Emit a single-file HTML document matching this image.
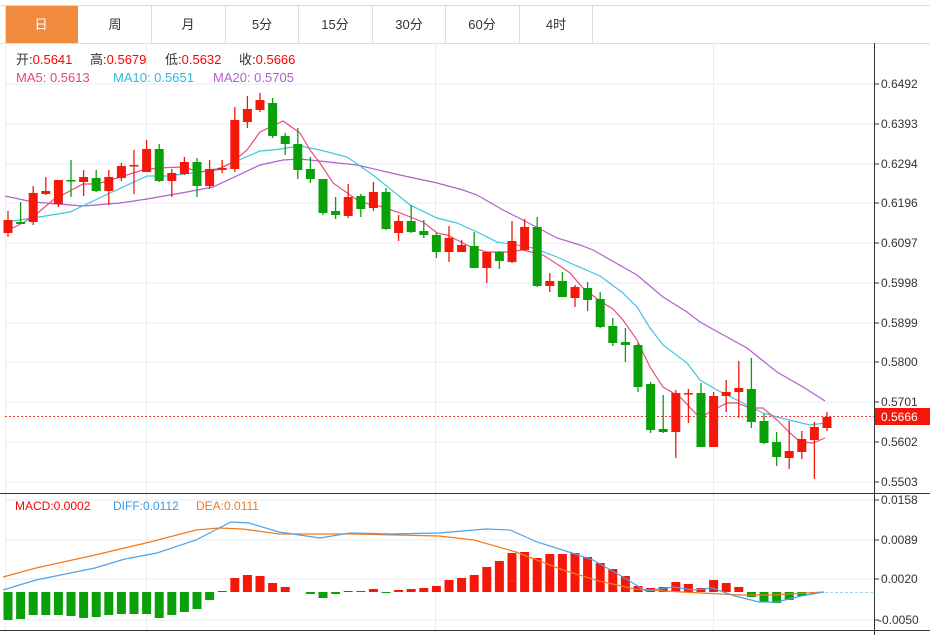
<!DOCTYPE html>
<html><head><meta charset="utf-8"><style>
html,body{margin:0;padding:0;background:#fff;width:930px;height:635px;overflow:hidden;font-family:"Liberation Sans","Noto Sans CJK SC",sans-serif}
svg{position:absolute;left:0;top:0}
</style></head><body>
<svg width="930" height="635" viewBox="0 0 930 635" xmlns="http://www.w3.org/2000/svg" font-family="Liberation Sans, Noto Sans CJK SC, sans-serif">
<line x1="0" y1="5.5" x2="930" y2="5.5" stroke="#ddd"/>
<line x1="0" y1="43.5" x2="930" y2="43.5" stroke="#ddd"/>
<rect x="5" y="6" width="73" height="37" fill="#f08a3c"/>
<g stroke="#ddd"><line x1="5.5" y1="6" x2="5.5" y2="43"/><line x1="151.5" y1="6" x2="151.5" y2="43"/><line x1="225.5" y1="6" x2="225.5" y2="43"/><line x1="298.5" y1="6" x2="298.5" y2="43"/><line x1="372.5" y1="6" x2="372.5" y2="43"/><line x1="445.5" y1="6" x2="445.5" y2="43"/><line x1="519.5" y1="6" x2="519.5" y2="43"/><line x1="592.5" y1="6" x2="592.5" y2="43"/></g>
<g font-size="13" text-anchor="middle" fill="#333"><text x="41" y="29" fill="#fff">日</text><text x="115" y="29">周</text><text x="188" y="29">月</text><text x="262" y="29">5分</text><text x="335" y="29">15分</text><text x="409" y="29">30分</text><text x="482" y="29">60分</text><text x="556" y="29">4时</text></g>
<g stroke="#e6edf3" stroke-width="1">
<line x1="5" y1="84" x2="874" y2="84"/><line x1="5" y1="124" x2="874" y2="124"/><line x1="5" y1="164" x2="874" y2="164"/><line x1="5" y1="203" x2="874" y2="203"/><line x1="5" y1="243" x2="874" y2="243"/><line x1="5" y1="283" x2="874" y2="283"/><line x1="5" y1="323" x2="874" y2="323"/><line x1="5" y1="362" x2="874" y2="362"/><line x1="5" y1="402" x2="874" y2="402"/><line x1="5" y1="442" x2="874" y2="442"/><line x1="5" y1="482" x2="874" y2="482"/>
<line x1="5" y1="500" x2="874" y2="500"/><line x1="5" y1="540" x2="874" y2="540"/><line x1="5" y1="579" x2="874" y2="579"/><line x1="5" y1="620" x2="874" y2="620"/>
<line x1="146.5" y1="43" x2="146.5" y2="630"/><line x1="435.5" y1="43" x2="435.5" y2="630"/><line x1="713.5" y1="43" x2="713.5" y2="630"/>
<line x1="5.5" y1="43" x2="5.5" y2="630"/>
</g>
<line x1="0" y1="493.5" x2="930" y2="493.5" stroke="#333"/>
<line x1="0" y1="630.5" x2="930" y2="630.5" stroke="#333"/>
<line x1="874.5" y1="43" x2="874.5" y2="635" stroke="#333"/>
<g font-size="12" fill="#333"><g stroke="#333"><line x1="875" y1="84" x2="879" y2="84"/><line x1="875" y1="124" x2="879" y2="124"/><line x1="875" y1="164" x2="879" y2="164"/><line x1="875" y1="203" x2="879" y2="203"/><line x1="875" y1="243" x2="879" y2="243"/><line x1="875" y1="283" x2="879" y2="283"/><line x1="875" y1="323" x2="879" y2="323"/><line x1="875" y1="362" x2="879" y2="362"/><line x1="875" y1="402" x2="879" y2="402"/><line x1="875" y1="442" x2="879" y2="442"/><line x1="875" y1="482" x2="879" y2="482"/><line x1="875" y1="500" x2="879" y2="500"/><line x1="875" y1="540" x2="879" y2="540"/><line x1="875" y1="579" x2="879" y2="579"/><line x1="875" y1="620" x2="879" y2="620"/></g>
<text x="881" y="88">0.6492</text><text x="881" y="128">0.6393</text><text x="881" y="168">0.6294</text><text x="881" y="207">0.6196</text><text x="881" y="247">0.6097</text><text x="881" y="287">0.5998</text><text x="881" y="327">0.5899</text><text x="881" y="366">0.5800</text><text x="881" y="406">0.5701</text><text x="881" y="446">0.5602</text><text x="881" y="486">0.5503</text>
<text x="881" y="504">0.0158</text><text x="881" y="544">0.0089</text><text x="881" y="583">0.0020</text><text x="878" y="624">-0.0050</text></g>
<g font-size="13">
<text x="16" y="64" fill="#333">开:<tspan fill="#f00">0.5641</tspan></text>
<text x="90" y="64" fill="#333">高:<tspan fill="#f00">0.5679</tspan></text>
<text x="165" y="64" fill="#333">低:<tspan fill="#f00">0.5632</tspan></text>
<text x="239" y="64" fill="#333">收:<tspan fill="#f00">0.5666</tspan></text>
<text x="16" y="82" fill="#e8457c">MA5: 0.5613</text>
<text x="113" y="82" fill="#30bcd6">MA10: 0.5651</text>
<text x="213" y="82" fill="#b15fcf">MA20: 0.5705</text>
</g>
<g font-size="12"><text x="15" y="510" fill="#f00">MACD:0.0002</text><text x="113" y="510" fill="#3b9ae8">DIFF:0.0112</text><text x="196" y="510" fill="#f57a1c">DEA:0.0111</text></g>
<line x1="5" y1="416.5" x2="874" y2="416.5" stroke="#f33" stroke-dasharray="2,2"/>
<rect x="875" y="408" width="55" height="17" fill="#f5180a"/>
<text x="881" y="421" font-size="12" fill="#fff">0.5666</text>
<polyline fill="none" stroke="#b15fcf" stroke-width="1.2" points="5,196 33,202 83,206 120,203 147,199 187,192 213,187 260,165 283,160 300,159 357,165 400,175 437,183 463,190 477,195 503,210 523,220 557,238 580,245 593,250 637,275 663,297 687,312 700,322 727,337 747,348 777,372 803,387 825,401"/>
<polyline fill="none" stroke="#3ec6dc" stroke-width="1.2" points="5,222 33,218 70,212 110,193 147,176 167,176 200,172 220,168 260,151 273,150 300,146 320,150 347,157 373,175 410,205 437,218 457,223 477,232 497,242 517,245 533,248 557,257 570,263 600,276 623,293 637,307 650,328 663,345 687,363 700,380 717,390 737,400 763,413 777,417 810,425 825,423"/>
<polyline fill="none" stroke="#eb4d7d" stroke-width="1.2" points="5,230 15,227 33,217 53,200 83,184 97,184 117,178 143,170 157,168 183,167 200,172 217,170 233,162 247,150 260,132 283,121 300,133 310,150 320,163 333,183 360,202 383,207 400,213 423,222 437,233 447,235 457,240 473,248 487,252 507,252 523,250 543,255 560,266 570,273 583,288 600,301 613,309 623,320 637,340 650,367 663,387 680,397 700,418 713,410 727,403 737,403 750,408 763,408 777,420 790,433 800,442 813,443 825,438"/>
<path stroke="#f5180a" stroke-width="1.3" fill="none" d="M8 211V237M33.2 186V225M45.8 177V195M58.4 180V207M83.6 170V196M108.8 170V205M121.4 163V181M134 150V194M146.6 140V172M171.8 169V197M184.4 157V175M209.6 160V189M222.2 160V173M234.8 107V172M247.4 96V128M260 93V112M348.2 184V218M373.4 182V211M398.6 215V241M449 226V262M461.6 240V252M486.8 252V283M512 221V263M524.6 219V251M549.8 273V292M575 285V307M675.8 390V458M688.4 389V423M713.6 392V447M726.2 380V412M738.8 361V418M789.2 421V469M801.8 431V459M814.4 422V479M827 412V431"/>
<g fill="#f5180a">
<rect x="3.5" y="220" width="9" height="13"/><rect x="28.7" y="193" width="9" height="29"/><rect x="41.3" y="191" width="9" height="3"/><rect x="53.9" y="180" width="9" height="24"/><rect x="79.1" y="177" width="9" height="5"/><rect x="104.3" y="177" width="9" height="14"/><rect x="116.9" y="166" width="9" height="12"/><rect x="129.5" y="165" width="9" height="1.5"/><rect x="142.1" y="149" width="9" height="23"/><rect x="167.3" y="173" width="9" height="8"/><rect x="179.9" y="162" width="9" height="12"/><rect x="205.1" y="169" width="9" height="17"/><rect x="217.7" y="168" width="9" height="2"/><rect x="230.3" y="120" width="9" height="49"/><rect x="242.9" y="109" width="9" height="13"/><rect x="255.5" y="100" width="9" height="10"/><rect x="343.7" y="197" width="9" height="19"/><rect x="368.9" y="192" width="9" height="16"/><rect x="394.1" y="221" width="9" height="12"/><rect x="444.5" y="238" width="9" height="14"/><rect x="457.1" y="245" width="9" height="7"/><rect x="482.3" y="252" width="9" height="16"/><rect x="507.5" y="241" width="9" height="21"/><rect x="520.1" y="227" width="9" height="23"/><rect x="545.3" y="281" width="9" height="5"/><rect x="570.5" y="287" width="9" height="11"/><rect x="671.3" y="393" width="9" height="39"/><rect x="683.9" y="393" width="9" height="1.5"/><rect x="709.1" y="396" width="9" height="51"/><rect x="721.7" y="392" width="9" height="4"/><rect x="734.3" y="388" width="9" height="4"/><rect x="784.7" y="451" width="9" height="7"/><rect x="797.3" y="439" width="9" height="13"/><rect x="809.9" y="427" width="9" height="13"/><rect x="822.5" y="417" width="9" height="11"/>
</g>
<path stroke="#0aa00a" stroke-width="1.3" fill="none" d="M20.6 202V224M71 160V197M96.2 170V192M159.2 144V182M197 158V197M272.6 98V138M285.2 133V155M297.8 128V179M310.4 157V183M323 179V215M335.6 197V219M360.8 194V217M386 188V230M411.2 205V233M423.8 220V238M436.4 233V258M474.2 232V268M499.4 251V269M537.2 217V287M562.4 272V297M587.6 282V311M600.2 292V328M612.8 318V346M625.4 328V362M638 343V392M650.6 382V433M663.2 395V433M701 383V447M751.4 358V428M764 414V444M776.6 432V466"/>
<g fill="#0aa00a">
<rect x="16.1" y="222" width="9" height="2"/><rect x="66.5" y="180" width="9" height="1.5"/><rect x="91.7" y="178" width="9" height="13"/><rect x="154.7" y="149" width="9" height="32"/><rect x="192.5" y="162" width="9" height="24"/><rect x="268.1" y="103" width="9" height="33"/><rect x="280.7" y="136" width="9" height="8"/><rect x="293.3" y="144" width="9" height="26"/><rect x="305.9" y="169" width="9" height="10"/><rect x="318.5" y="179" width="9" height="34"/><rect x="331.1" y="211" width="9" height="4"/><rect x="356.3" y="196" width="9" height="13"/><rect x="381.5" y="192" width="9" height="37"/><rect x="406.7" y="221" width="9" height="11"/><rect x="419.3" y="231" width="9" height="4"/><rect x="431.9" y="235" width="9" height="17"/><rect x="469.7" y="246" width="9" height="22"/><rect x="494.9" y="252" width="9" height="9"/><rect x="532.7" y="227" width="9" height="59"/><rect x="557.9" y="281" width="9" height="16"/><rect x="583.1" y="288" width="9" height="12"/><rect x="595.7" y="299" width="9" height="28"/><rect x="608.3" y="326" width="9" height="17"/><rect x="620.9" y="342" width="9" height="3"/><rect x="633.5" y="345" width="9" height="42"/><rect x="646.1" y="384" width="9" height="46"/><rect x="658.7" y="429" width="9" height="3"/><rect x="696.5" y="393" width="9" height="54"/><rect x="746.9" y="389" width="9" height="33"/><rect x="759.5" y="421" width="9" height="22"/><rect x="772.1" y="442" width="9" height="15"/>
</g>
<line x1="820" y1="592.5" x2="874" y2="592.5" stroke="#9fd3ec" stroke-dasharray="3,2"/>
<g fill="#0aa00a">
<rect x="3.5" y="592" width="9" height="28"/><rect x="16.1" y="592" width="9" height="27"/><rect x="28.7" y="592" width="9" height="23"/><rect x="41.3" y="592" width="9" height="23"/><rect x="53.9" y="592" width="9" height="23"/><rect x="66.5" y="592" width="9" height="24"/><rect x="79.1" y="592" width="9" height="26"/><rect x="91.7" y="592" width="9" height="25"/><rect x="104.3" y="592" width="9" height="23"/><rect x="116.9" y="592" width="9" height="22"/><rect x="129.5" y="592" width="9" height="22"/><rect x="142.1" y="592" width="9" height="22"/><rect x="154.7" y="592" width="9" height="26"/><rect x="167.3" y="592" width="9" height="23"/><rect x="179.9" y="592" width="9" height="20"/><rect x="192.5" y="592" width="9" height="17"/><rect x="205.1" y="592" width="9" height="8"/>
<rect x="305.9" y="592" width="9" height="2"/><rect x="318.5" y="592" width="9" height="6"/><rect x="331.1" y="592" width="9" height="2"/><rect x="381.5" y="592" width="9" height="1"/>
<rect x="746.9" y="592" width="9" height="5"/><rect x="759.5" y="592" width="9" height="10"/><rect x="772.1" y="592" width="9" height="11"/><rect x="784.7" y="592" width="9" height="8"/><rect x="797.3" y="592" width="9" height="4"/><rect x="809.9" y="592" width="9" height="1.5"/>
</g>
<g fill="#f5180a">
<rect x="217.7" y="591" width="9" height="1"/><rect x="230.3" y="578" width="9" height="14"/><rect x="242.9" y="575" width="9" height="17"/><rect x="255.5" y="576" width="9" height="16"/><rect x="268.1" y="583" width="9" height="9"/><rect x="280.7" y="587" width="9" height="5"/>
<rect x="343.7" y="591" width="9" height="1"/><rect x="356.3" y="591" width="9" height="1"/><rect x="368.9" y="589" width="9" height="3"/>
<rect x="394.1" y="590" width="9" height="2"/><rect x="406.7" y="589" width="9" height="3"/><rect x="419.3" y="588" width="9" height="4"/><rect x="431.9" y="586" width="9" height="6"/><rect x="444.5" y="580" width="9" height="12"/><rect x="457.1" y="578" width="9" height="14"/><rect x="469.7" y="575" width="9" height="17"/><rect x="482.3" y="567" width="9" height="25"/><rect x="494.9" y="561" width="9" height="31"/><rect x="507.5" y="553" width="9" height="39"/><rect x="520.1" y="552" width="9" height="40"/><rect x="532.7" y="558" width="9" height="34"/><rect x="545.3" y="554" width="9" height="38"/><rect x="557.9" y="554" width="9" height="38"/><rect x="570.5" y="553" width="9" height="39"/><rect x="583.1" y="557" width="9" height="35"/><rect x="595.7" y="563" width="9" height="29"/><rect x="608.3" y="569" width="9" height="23"/><rect x="620.9" y="576" width="9" height="16"/><rect x="633.5" y="586" width="9" height="6"/><rect x="646.1" y="588" width="9" height="4"/><rect x="658.7" y="587" width="9" height="5"/><rect x="671.3" y="582" width="9" height="10"/><rect x="683.9" y="584" width="9" height="8"/><rect x="696.5" y="588" width="9" height="4"/><rect x="709.1" y="580" width="9" height="12"/><rect x="721.7" y="583" width="9" height="9"/><rect x="734.3" y="587" width="9" height="5"/>
</g>
<polyline fill="none" stroke="#f57a1c" stroke-width="1.3" points="3,577 36,568 95,555 154,541 196,530 219,528 243,529 279,534 356,534 439,536 474,540 516,552 563,570 599,581 635,589 682,592 741,595 771,595 824,592"/>
<polyline fill="none" stroke="#4fa3e8" stroke-width="1.2" points="3,590 36,580 95,568 125,559 157,553 196,540 231,522 249,523 279,532 320,538 350,533 391,534 439,533 486,529 510,530 537,542 569,552 593,560 623,577 646,591 673,587 694,590 712,588 735,596 759,602 777,602 801,596 824,592"/>
</svg>
</body></html>
